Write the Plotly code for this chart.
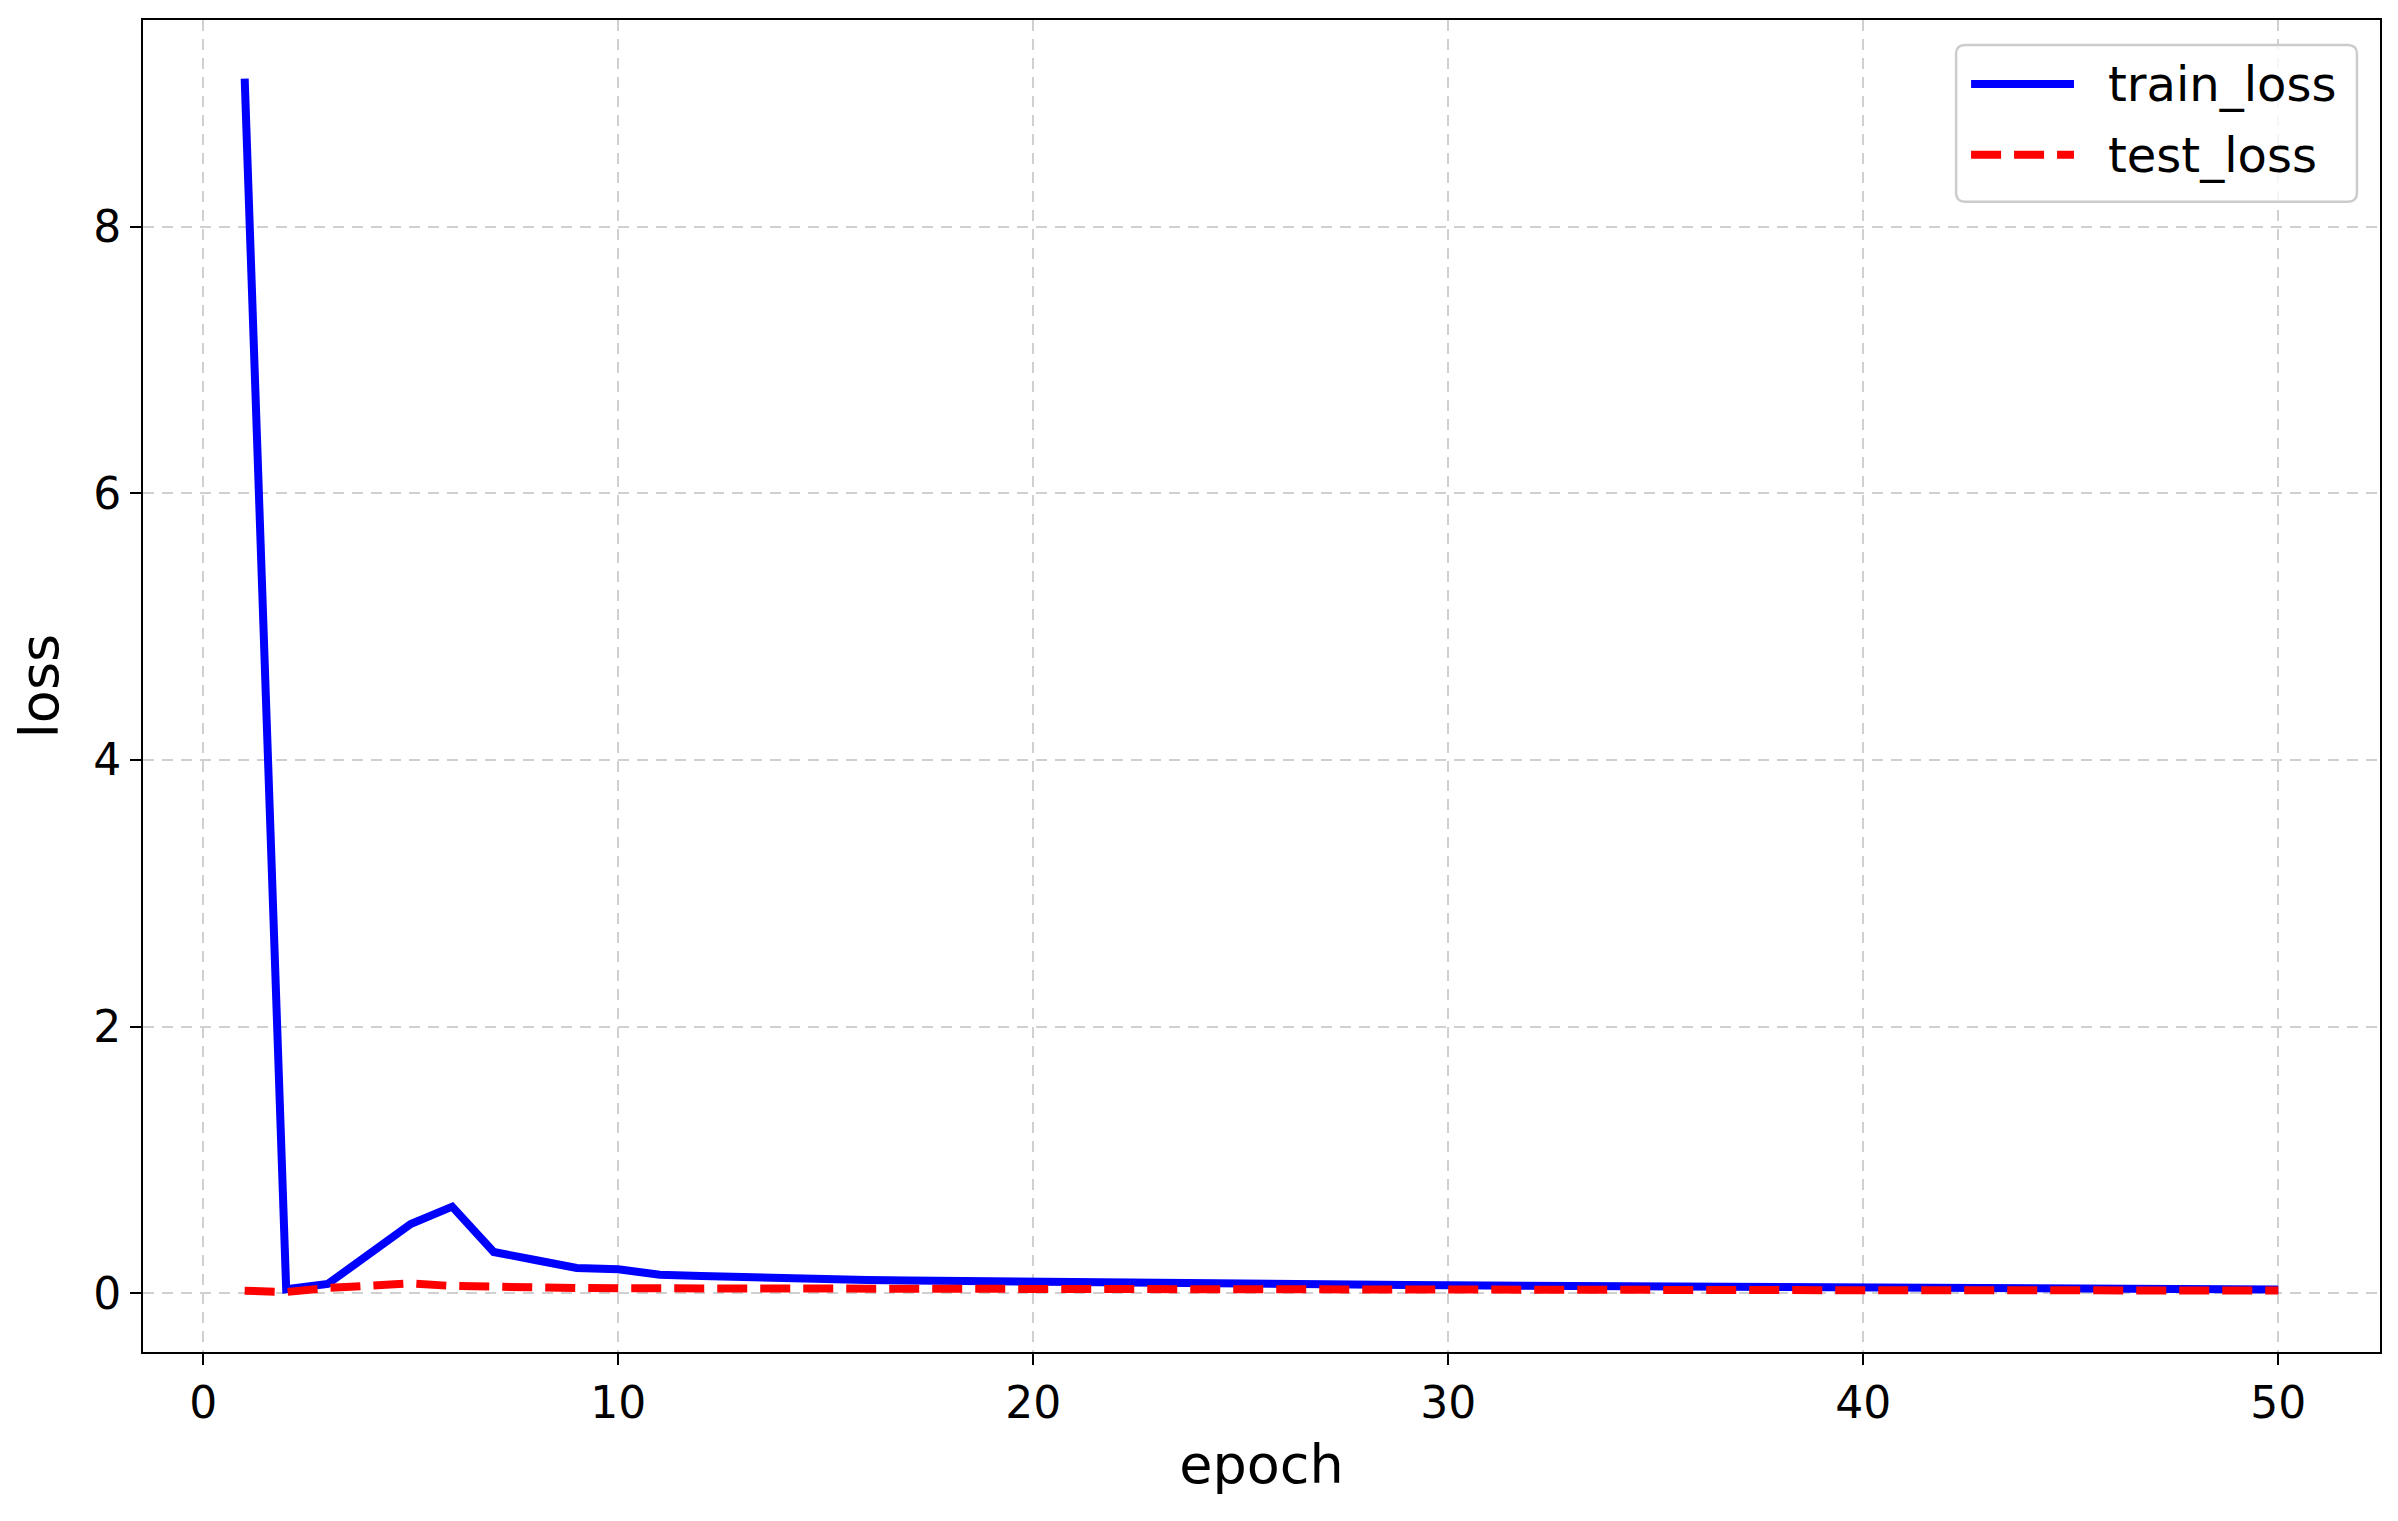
import plotly.graph_objects as go

epochs = list(range(1, 51))
train_loss = [9.11, 0.03, 0.07, 0.30, 0.52, 0.65, 0.31, 0.25, 0.19, 0.18,
              0.14, 0.13, 0.12, 0.112, 0.105, 0.100, 0.096, 0.092, 0.088, 0.084,
              0.081, 0.078, 0.075, 0.073, 0.070, 0.068, 0.066, 0.064, 0.062, 0.060,
              0.058, 0.056, 0.055, 0.053, 0.052, 0.050, 0.049, 0.047, 0.046, 0.045,
              0.043, 0.042, 0.040, 0.039, 0.037, 0.036, 0.034, 0.032, 0.030, 0.028]
test_loss = [0.02, 0.01, 0.04, 0.06, 0.075, 0.055, 0.046, 0.043, 0.040, 0.038,
             0.037, 0.036, 0.035, 0.034, 0.033, 0.033, 0.032, 0.032, 0.031, 0.031,
             0.030, 0.030, 0.030, 0.029, 0.029, 0.029, 0.028, 0.028, 0.028, 0.027,
             0.027, 0.027, 0.026, 0.026, 0.026, 0.025, 0.025, 0.025, 0.024, 0.024,
             0.024, 0.023, 0.023, 0.023, 0.022, 0.022, 0.022, 0.021, 0.021, 0.021]
x_ticks = [0, 10, 20, 30, 40, 50]
y_ticks = [0, 2, 4, 6, 8]
series_names = ["train_loss", "test_loss"]
series_colors = ["#0000ff", "#ff0000"]
series_dash = ["solid", "30px,13px"]

FONT = "DejaVu Sans"
LW = 8

fig = go.Figure()
for name, ys, col, dash in zip(series_names, [train_loss, test_loss], series_colors, series_dash):
    fig.add_trace(go.Scatter(x=epochs, y=ys, mode="lines", name=name,
                             line=dict(color=col, width=LW, dash=dash), showlegend=False))

axis_common = dict(
    showline=True, linecolor="black", linewidth=2, mirror=True,
    ticks="outside", ticklen=11, tickwidth=2, tickcolor="black",
    showgrid=True, gridcolor="#d0d0d0", gridwidth=2, griddash="11px,8px",
    zeroline=False, tickfont=dict(family=FONT, size=44, color="black"),
)

fig.update_xaxes(range=[-1.45, 52.45], tickvals=x_ticks,
                 title=dict(text="epoch", font=dict(family=FONT, size=54, color="black"), standoff=18),
                 **axis_common)
fig.update_yaxes(range=[-0.44, 9.55], tickvals=y_ticks,
                 title=dict(text="loss", font=dict(family=FONT, size=54, color="black"), standoff=20),
                 **axis_common)

# custom legend (matplotlib-style rounded box) in paper coordinates
bx0, bx1, by0, by1 = 0.8105, 0.9897, 0.8636, 0.9813
rx, ry = 0.0040, 0.0067
path = (f"M {bx0+rx},{by1} L {bx1-rx},{by1} Q {bx1},{by1} {bx1},{by1-ry} "
        f"L {bx1},{by0+ry} Q {bx1},{by0} {bx1-rx},{by0} "
        f"L {bx0+rx},{by0} Q {bx0},{by0} {bx0},{by0+ry} "
        f"L {bx0},{by1-ry} Q {bx0},{by1} {bx0+rx},{by1} Z")
shapes = [dict(type="path", path=path, xref="paper", yref="paper",
               fillcolor="rgba(255,255,255,0.8)", line=dict(color="#cccccc", width=2.5))]
annotations = []
row_y = [0.952, 0.8988]
for name, col, dash, yy in zip(series_names, series_colors, series_dash, row_y):
    shapes.append(dict(type="line", xref="paper", yref="paper", x0=0.8172, x1=0.8632,
                       y0=yy, y1=yy, line=dict(color=col, width=LW, dash=dash)))
    annotations.append(dict(text=name, xref="paper", yref="paper", x=0.8775, y=yy,
                            xanchor="left", yanchor="middle", showarrow=False,
                            font=dict(family=FONT, size=48, color="black")))

fig.update_layout(
    width=2390, height=1513,
    margin=dict(l=135, r=18, t=10, b=169),
    paper_bgcolor="white", plot_bgcolor="white",
    font=dict(family=FONT, color="black"),
    shapes=shapes, annotations=annotations,
    showlegend=False,
)

fig.write_html("out.html")
